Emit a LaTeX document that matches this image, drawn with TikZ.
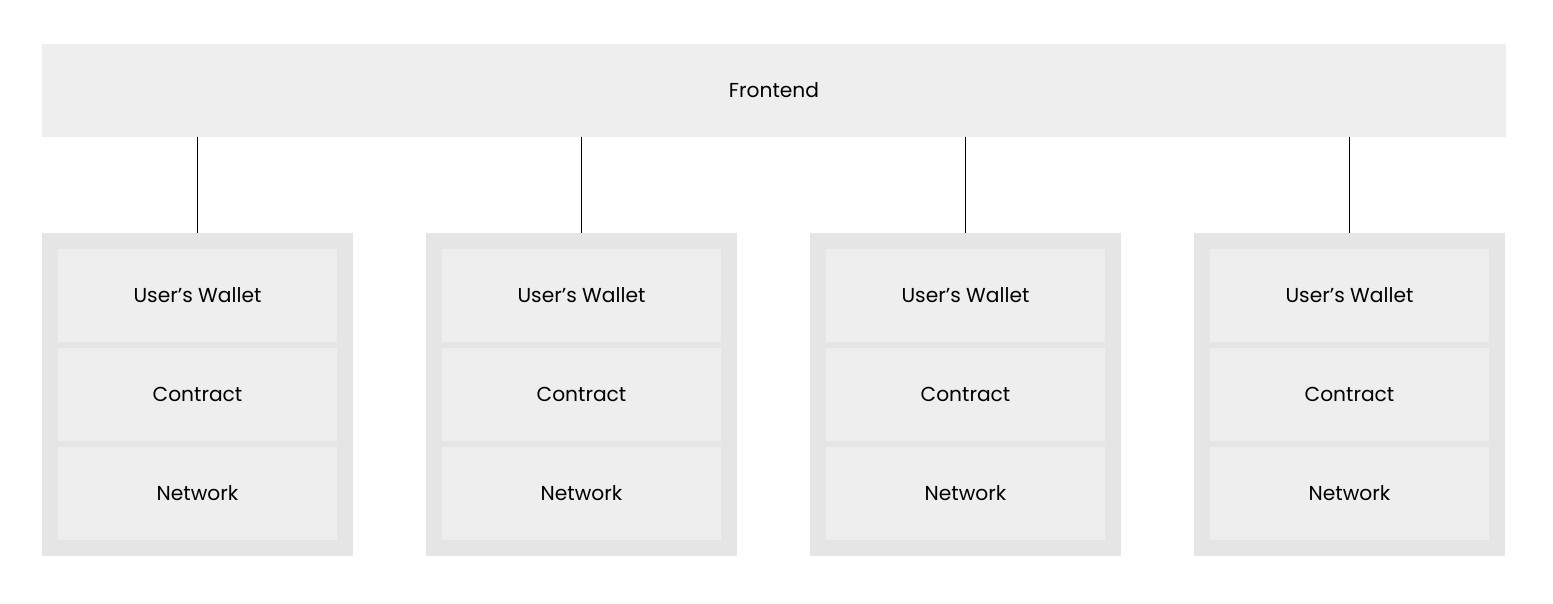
\documentclass[tikz,border=0pt]{standalone}
\usepackage{fontspec}
\setmainfont{Poppins}
\usetikzlibrary{positioning}
\definecolor{boxgray}{HTML}{EEEEEE}
\definecolor{stackgray}{HTML}{E5E5E5}
\begin{document}
\begin{tikzpicture}[x=0.02cm,y=-0.02cm,font=\fontsize{11.5}{14}\selectfont,
  every node/.style={inner sep=0pt,outer sep=0pt},
  layer/.style={fill=boxgray,minimum width=5.58cm,minimum height=1.86cm},
  stack/.style={fill=stackgray,minimum width=6.22cm,minimum height=6.46cm},
  link/.style={draw=black,line width=0.6pt}]
  \useasboundingbox (0,0) rectangle (1553,603);
  \node[fill=boxgray,minimum width=29.28cm,minimum height=1.86cm] (front) at (774,90.5) {Frontend};
  \foreach \i in {0,1,2,3}{
    \node[stack] (stack\i) at (197.5+384*\i,394.5) {};
    \node[layer] (wallet\i) at (197.5+384*\i,295.5) {User’s Wallet};
    \node[layer,below=0.12cm of wallet\i] (contract\i) {Contract};
    \node[layer,below=0.12cm of contract\i] (network\i) {Network};
    \draw[link] (front.south -| stack\i.north) -- (stack\i.north);
  }
\end{tikzpicture}
\end{document}
